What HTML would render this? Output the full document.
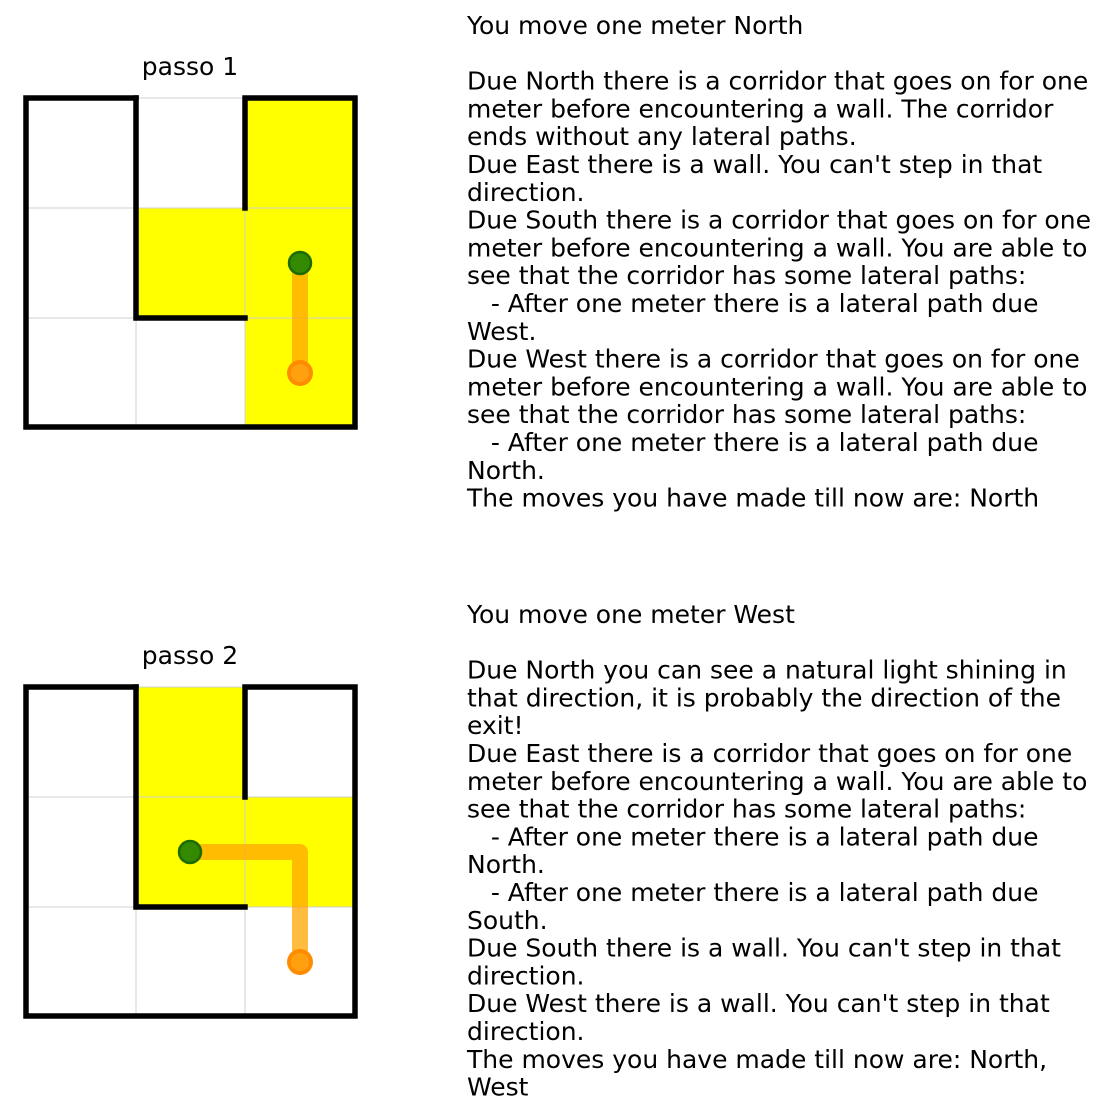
<!DOCTYPE html>
<html><head><meta charset="utf-8"><style>
html,body{margin:0;padding:0;background:#fff;}
svg{display:block;}
text{font-family:"DejaVu Sans","Liberation Sans",sans-serif;font-size:25px;fill:#000;white-space:pre;}
</style></head><body>
<svg width="1107" height="1115" viewBox="0 0 1107 1115" xmlns="http://www.w3.org/2000/svg" xml:space="preserve">
<defs>
<g id="grid">
  <g stroke="#d0d0d0" stroke-width="1">
    <line x1="26" y1="98" x2="26" y2="427"/><line x1="136" y1="98" x2="136" y2="427"/>
    <line x1="245" y1="98" x2="245" y2="427"/><line x1="355" y1="98" x2="355" y2="427"/>
    <line x1="26" y1="98" x2="355" y2="98"/><line x1="26" y1="208" x2="355" y2="208"/>
    <line x1="26" y1="318" x2="355" y2="318"/><line x1="26" y1="427" x2="355" y2="427"/>
  </g>
</g>
<g id="walls" stroke="#000" stroke-width="5.5" fill="none" stroke-linecap="square">
  <polyline points="136,98 26,98 26,427 355,427 355,98 245,98 245,208"/>
  <polyline points="136,98 136,318 245,318"/>
</g>
</defs>

<text x="190" y="75" text-anchor="middle">passo 1</text>
<g fill="#ffff00">
  <rect x="245" y="98" width="110" height="329"/>
  <rect x="136" y="208" width="109" height="110"/>
</g>
<use href="#grid"/>
<use href="#walls"/>
<line x1="300" y1="263" x2="300" y2="373" stroke="#ffa500" stroke-opacity="0.75" stroke-width="16" stroke-linecap="round"/>
<circle cx="300" cy="373" r="13" fill="#ff8c00"/>
<circle cx="300" cy="373" r="9" fill="#ffa010"/>
<circle cx="300" cy="263" r="11" fill="#338a00" stroke="#1c6b00" stroke-width="2.5"/>

<g transform="translate(0,589)">
<text x="190" y="75" text-anchor="middle">passo 2</text>
<g fill="#ffff00">
  <rect x="136" y="98" width="109" height="220"/>
  <rect x="245" y="208" width="108" height="110"/>
</g>
<use href="#grid"/>
<use href="#walls"/>
<polyline points="190,263 300,263 300,373" fill="none" stroke="#ffa500" stroke-opacity="0.75" stroke-width="16" stroke-linecap="round" stroke-linejoin="round"/>
<circle cx="300" cy="373" r="13" fill="#ff8c00"/>
<circle cx="300" cy="373" r="9" fill="#ffa010"/>
<circle cx="190" cy="263" r="11" fill="#338a00" stroke="#1c6b00" stroke-width="2.5"/>
</g>

<g>
<text x="467" y="34">You move one meter North</text>
<text x="467" y="89.6">Due North there is a corridor that goes on for one</text>
<text x="467" y="117.4">meter before encountering a wall. The corridor</text>
<text x="467" y="145.2">ends without any lateral paths.</text>
<text x="467" y="173">Due East there is a wall. You can't step in that</text>
<text x="467" y="200.8">direction.</text>
<text x="467" y="228.6">Due South there is a corridor that goes on for one</text>
<text x="467" y="256.4">meter before encountering a wall. You are able to</text>
<text x="467" y="284.2">see that the corridor has some lateral paths:</text>
<text x="467" y="312">   - After one meter there is a lateral path due</text>
<text x="467" y="339.8">West.</text>
<text x="467" y="367.6">Due West there is a corridor that goes on for one</text>
<text x="467" y="395.4">meter before encountering a wall. You are able to</text>
<text x="467" y="423.2">see that the corridor has some lateral paths:</text>
<text x="467" y="451">   - After one meter there is a lateral path due</text>
<text x="467" y="478.8">North.</text>
<text x="467" y="506.6">The moves you have made till now are: North</text>
</g>

<g>
<text x="467" y="623">You move one meter West</text>
<text x="467" y="678.6">Due North you can see a natural light shining in</text>
<text x="467" y="706.4">that direction, it is probably the direction of the</text>
<text x="467" y="734.2">exit!</text>
<text x="467" y="762">Due East there is a corridor that goes on for one</text>
<text x="467" y="789.8">meter before encountering a wall. You are able to</text>
<text x="467" y="817.6">see that the corridor has some lateral paths:</text>
<text x="467" y="845.4">   - After one meter there is a lateral path due</text>
<text x="467" y="873.2">North.</text>
<text x="467" y="901">   - After one meter there is a lateral path due</text>
<text x="467" y="928.8">South.</text>
<text x="467" y="956.6">Due South there is a wall. You can't step in that</text>
<text x="467" y="984.4">direction.</text>
<text x="467" y="1012.2">Due West there is a wall. You can't step in that</text>
<text x="467" y="1040">direction.</text>
<text x="467" y="1067.8">The moves you have made till now are: North,</text>
<text x="467" y="1095.6">West</text>
</g>
</svg>
</body></html>
